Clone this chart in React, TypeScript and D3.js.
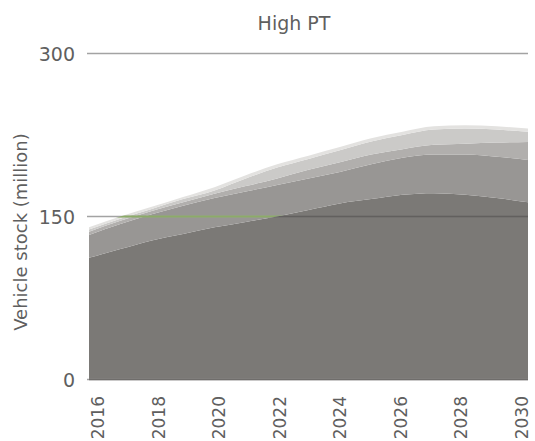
import React from "react";
import * as d3 from "d3";

const years = [2016, 2017, 2018, 2019, 2020, 2021, 2022, 2023, 2024, 2025, 2026, 2027, 2028, 2029, 2030];
// cumulative tops of each stacked layer (converted to per-layer values below)
const layer1Top = [112, 120, 128, 134, 140, 145, 150, 156, 162, 166, 170, 171.5, 170, 167, 163];
const layer2Top = [133, 143, 152, 160, 167, 173, 179, 185, 191, 198, 204, 207, 207, 205, 202];
const layer3Top = [136, 146, 155, 163, 171, 178, 185, 193, 200, 207, 212, 216, 217, 218, 218.5];
const layer4Top = [138, 148, 157, 166, 174, 185, 195, 203, 211, 219, 225, 230, 231, 230, 228];
const layer5Top = [140, 150, 159, 168, 177, 188, 198, 206, 214, 222, 228, 233, 234, 233, 231];
const layerColors = ["#7b7976", "#989694", "#b1afad", "#cbcac8", "#e3e2e0"];
const yTicks = [0, 150, 300];
const xTickYears = [2016, 2018, 2020, 2022, 2024, 2026, 2028, 2030];
const title = "High PT";
const yTitle = "Vehicle stock (million)";

const tops = [layer1Top, layer2Top, layer3Top, layer4Top, layer5Top];
const keys = ["l1", "l2", "l3", "l4", "l5"];
const rows = years.map((yr, i) => {
  const r: any = { year: yr };
  keys.forEach((k, j) => {
    r[k] = tops[j][i] - (j > 0 ? tops[j - 1][i] : 0);
  });
  return r;
});

export default function App() {
  const W = 535, H = 441;
  const x = d3.scaleLinear().domain([2016, 2030]).range([89, 528]);
  const xLab = d3.scaleLinear().domain([2016, 2030]).range([98, 522]);
  const y = d3.scaleLinear().domain([0, 300]).range([379.5, 53.5]);
  const stack = d3.stack().keys(keys);
  const series = stack(rows as any);
  const area = d3
    .area<any>()
    .x((d) => x(d.data.year))
    .y0((d) => y(d[0]))
    .y1((d) => y(d[1]))
    .curve(d3.curveMonotoneX);
  const last = series[series.length - 1];
  const upperArea = d3
    .area<any>()
    .x((_, i) => x(years[i]))
    .y0((_, i) => y(series[0][i][1]))
    .y1((_, i) => y(last[i][1]))
    .curve(d3.curveMonotoneX);
  const font = "'DejaVu Sans', sans-serif";
  const txt = "#5f5f5f";
  return (
    <svg width={W} height={H} style={{ position: "absolute", left: 0, top: 0 }}>
      <defs>
        <clipPath id="upperClip">
          <path d={upperArea(years as any) || ""} />
        </clipPath>
        <clipPath id="lowerClip">
          <path d={area(series[0] as any) || ""} />
        </clipPath>
      </defs>
      <text x={294} y={30} textAnchor="middle" fontFamily={font} fontSize={19} fill={txt}>
        {title}
      </text>
      <text
        transform={`translate(20,232) rotate(-90)`}
        textAnchor="middle"
        dominantBaseline="central"
        fontFamily={font}
        fontSize={18}
        fill={txt}
      >
        {yTitle}
      </text>
      {series.map((s, i) => (
        <path key={i} d={area(s as any) || ""} fill={layerColors[i]} />
      ))}
      {yTicks.map((t) => (
        <g key={t}>
          <line x1={87} x2={528} y1={y(t)} y2={y(t)} stroke="#a3a3a3" strokeWidth={1.5} />
          <text
            x={75}
            y={y(t)}
            textAnchor="end"
            dominantBaseline="central"
            fontFamily={font}
            fontSize={19}
            fill={txt}
          >
            {t}
          </text>
        </g>
      ))}
      <line x1={87} x2={528} y1={y(150)} y2={y(150)} stroke="#8cab68" strokeWidth={2} clipPath="url(#upperClip)" />
      <line x1={87} x2={528} y1={y(150)} y2={y(150)} stroke="#62605e" strokeWidth={2} clipPath="url(#lowerClip)" />
      <line x1={89} x2={528} y1={y(0)} y2={y(0)} stroke="#6f6d6b" strokeWidth={1.5} />
      {xTickYears.map((yr) => (
        <text
          key={yr}
          transform={`translate(${xLab(yr)},396) rotate(-90)`}
          textAnchor="end"
          dominantBaseline="central"
          fontFamily={font}
          fontSize={17}
          fill={txt}
        >
          {yr}
        </text>
      ))}
    </svg>
  );
}
